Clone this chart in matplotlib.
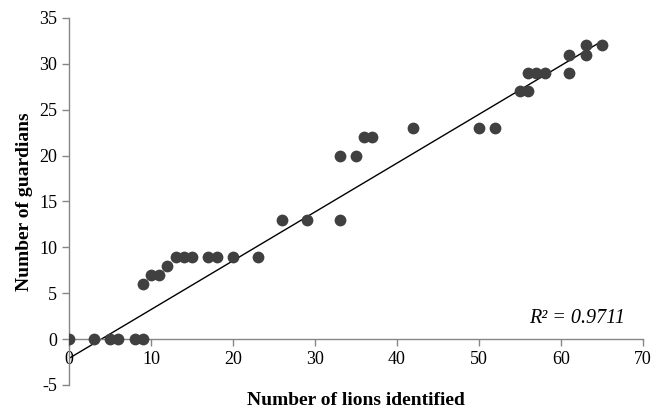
import numpy as np
import matplotlib
matplotlib.use('Agg')
import matplotlib.pyplot as plt

plt.rcParams['font.family'] = ['Liberation Serif', 'DejaVu Serif']
plt.rcParams['axes.unicode_minus'] = False

# lions identified vs guardians
lions = [0, 3, 5, 6, 8, 9, 9, 10, 11, 12, 13, 14, 15, 17, 18, 20, 23,
         26, 29, 33, 33, 35, 36, 37, 42, 50, 52, 55, 56, 56, 57, 58,
         61, 61, 63, 63, 65]
guardians = [0, 0, 0, 0, 0, 0, 6, 7, 7, 8, 9, 9, 9, 9, 9, 9, 9,
             13, 13, 13, 20, 20, 22, 22, 23, 23, 23, 27, 27, 29, 29, 29,
             31, 29, 32, 31, 32]
# trendline as shown on the chart
trend_slope = 0.532
trend_intercept = -2.1
trend_x = [0, 65]
x_ticks = [0, 10, 20, 30, 40, 50, 60, 70]
y_ticks = [-5, 0, 5, 10, 15, 20, 25, 30, 35]

fig = plt.figure(figsize=(6.54, 4.08), dpi=100)
ax = fig.add_axes([0.1055, 0.0564, 0.8777, 0.8996])

ax.scatter(lions, guardians, s=72, color='#404040', zorder=3, linewidths=0)

xs = np.array(trend_x)
ax.plot(xs, trend_slope * xs + trend_intercept, color='black',
        linewidth=1, zorder=2)

ax.set_xlim(0, 70)
ax.set_ylim(-5, 35)
ax.set_xticks(x_ticks)
ax.set_yticks(y_ticks)

ax.spines['top'].set_visible(False)
ax.spines['right'].set_visible(False)
ax.spines['bottom'].set_position(('data', 0))
for side in ['left', 'bottom']:
    ax.spines[side].set_color('#868686')
    ax.spines[side].set_linewidth(1)
ax.tick_params(colors='#868686', length=5, width=1, labelsize=13,
               labelcolor='black')

ax.text(67.8, 2.3, 'R² = 0.9711', style='italic', fontsize=14.5,
        ha='right', va='center')

ax.set_xlabel('Number of lions identified', fontsize=14, fontweight='bold')
ax.xaxis.set_label_coords(0.5, -0.02)
ax.set_ylabel('Number of guardians', fontsize=14, fontweight='bold')
ax.yaxis.set_label_coords(-0.063, 0.5)

plt.savefig('out.png')
